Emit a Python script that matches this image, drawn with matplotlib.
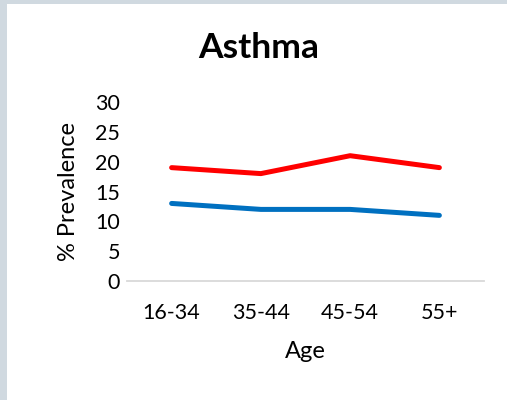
import matplotlib
matplotlib.use('Agg')
import matplotlib.pyplot as plt
import matplotlib.patches as mpatches

# Data
ages = ['16-34', '35-44', '45-54', '55+']
red_vals = [19, 18, 21, 19]
blue_vals = [13, 12, 12, 11]
yticks = [0, 5, 10, 15, 20, 25, 30]

plt.rcParams['font.family'] = ['Lato', 'DejaVu Sans']

W, H = 507, 400
fig = plt.figure(figsize=(W / 100, H / 100), dpi=100)
fig.patch.set_facecolor('#d0d9e0')
# white panel (gray strip left and top)
fig.patches.append(mpatches.Rectangle((7 / W, 0), 1, 1 - 4 / H,
                                      transform=fig.transFigure,
                                      facecolor='white', edgecolor='none',
                                      zorder=-10))

x0, x1 = 127, 484
y0, y1 = 281, 102
ax = fig.add_axes([x0 / W, 1 - y0 / H, (x1 - x0) / W, (y0 - y1) / H])
ax.patch.set_alpha(0)

xs = list(range(len(ages)))
ax.plot(xs, red_vals, color='#ff0000', lw=3.6, solid_capstyle='round',
        solid_joinstyle='round', zorder=3)
ax.plot(xs, blue_vals, color='#0070c0', lw=3.6, solid_capstyle='round',
        solid_joinstyle='round', zorder=3)

ax.set_xlim(-0.5, len(ages) - 0.5)
ax.set_ylim(0, 30)
ax.set_yticks(yticks)
ax.set_xticks(xs)
ax.set_xticklabels(ages)
ax.tick_params(axis='both', length=0, labelsize=15.5, colors='black')
ax.tick_params(axis='x', pad=16)
ax.tick_params(axis='y', pad=5)

for side in ['top', 'right', 'left']:
    ax.spines[side].set_visible(False)
ax.spines['bottom'].set_color('#d9d9d9')
ax.spines['bottom'].set_linewidth(1.3)
ax.spines['bottom'].set_zorder(2)

ax.set_ylabel('% Prevalence', fontsize=17, labelpad=12)
ax.set_xlabel('Age', fontsize=17, labelpad=13)

fig.text(259 / W, 1 - 48 / H, 'Asthma', fontsize=25.5, fontweight='bold',
         ha='center', va='center')

fig.savefig('out.png', dpi=100, facecolor=fig.get_facecolor())
